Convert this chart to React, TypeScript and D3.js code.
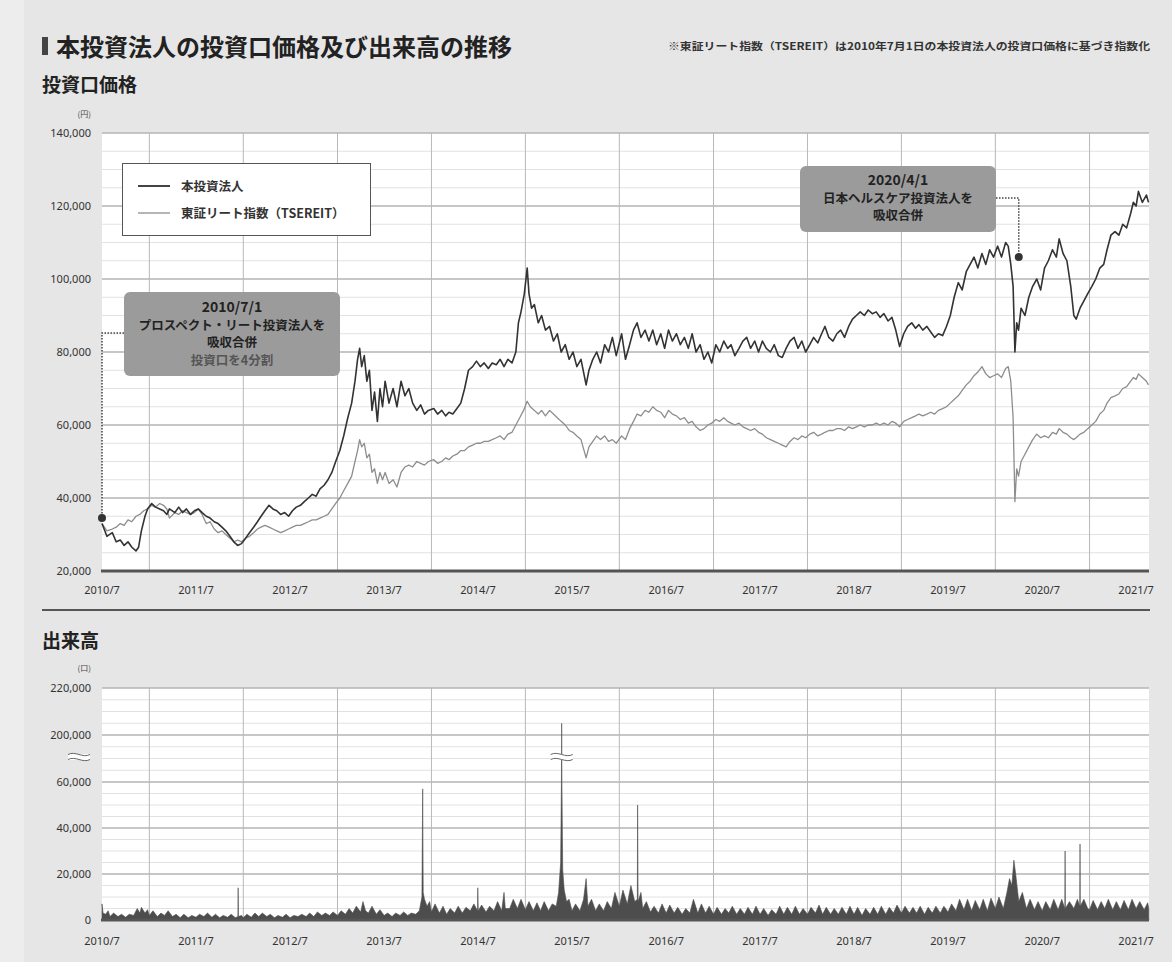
import * as d3 from "d3";

type Pt = [string, number];

// 本投資法人 投資口価格 (円)
const companyPrice: Pt[] = [
  ["2010-07-01", 33000], ["2010-07-20", 29500], ["2010-08-10", 30500], ["2010-08-25", 28000],
  ["2010-09-10", 28500], ["2010-09-25", 27000], ["2010-10-10", 28000], ["2010-10-25", 26500],
  ["2010-11-10", 25500], ["2010-11-20", 26500], ["2010-12-01", 31000], ["2010-12-15", 35000],
  ["2010-12-25", 37000], ["2011-01-10", 38500], ["2011-01-25", 37500], ["2011-02-10", 37000],
  ["2011-02-25", 36500], ["2011-03-10", 35500], ["2011-03-20", 37000], ["2011-04-10", 36000],
  ["2011-04-25", 37500], ["2011-05-10", 36000], ["2011-05-25", 37000], ["2011-06-10", 35500],
  ["2011-06-25", 36500], ["2011-07-10", 37000], ["2011-07-25", 36000], ["2011-08-10", 35000],
  ["2011-08-25", 34500], ["2011-09-10", 33500], ["2011-09-25", 33000], ["2011-10-10", 32000],
  ["2011-10-25", 31000], ["2011-11-10", 29500], ["2011-11-25", 28000], ["2011-12-10", 27000],
  ["2011-12-25", 27500], ["2012-01-10", 29000], ["2012-01-25", 30500], ["2012-02-10", 32000],
  ["2012-02-25", 33500], ["2012-03-10", 35000], ["2012-03-25", 36500], ["2012-04-10", 38000],
  ["2012-04-25", 37000], ["2012-05-10", 36500], ["2012-05-25", 35500], ["2012-06-10", 36000],
  ["2012-06-25", 35000], ["2012-07-10", 36500], ["2012-07-25", 37500], ["2012-08-10", 38000],
  ["2012-08-25", 39000], ["2012-09-10", 40000], ["2012-09-25", 41000], ["2012-10-10", 40500],
  ["2012-10-25", 42500], ["2012-11-10", 43500], ["2012-11-25", 45000], ["2012-12-10", 47000],
  ["2012-12-25", 50000], ["2013-01-10", 53000], ["2013-01-25", 57000], ["2013-02-10", 62000],
  ["2013-02-25", 66000], ["2013-03-10", 72000], ["2013-03-20", 78000], ["2013-03-28", 81000],
  ["2013-04-05", 76000], ["2013-04-15", 79000], ["2013-04-25", 72000], ["2013-05-05", 75000],
  ["2013-05-15", 64000], ["2013-05-25", 69000], ["2013-06-05", 61000], ["2013-06-15", 70000],
  ["2013-06-25", 65000], ["2013-07-05", 72000], ["2013-07-20", 66000], ["2013-08-05", 70000],
  ["2013-08-20", 65000], ["2013-09-05", 72000], ["2013-09-20", 68000], ["2013-10-05", 70000],
  ["2013-10-20", 66000], ["2013-11-05", 64000], ["2013-11-20", 65500], ["2013-12-05", 63000],
  ["2013-12-20", 64000], ["2014-01-10", 64500], ["2014-01-25", 63000], ["2014-02-10", 64000],
  ["2014-02-25", 62500], ["2014-03-10", 63500], ["2014-03-25", 63000], ["2014-04-10", 64500],
  ["2014-04-25", 66000], ["2014-05-10", 70000], ["2014-05-25", 75000], ["2014-06-10", 76000],
  ["2014-06-25", 77500], ["2014-07-10", 76000], ["2014-07-25", 77000], ["2014-08-10", 75500],
  ["2014-08-25", 77000], ["2014-09-10", 76500], ["2014-09-25", 78000], ["2014-10-10", 76000],
  ["2014-10-25", 78000], ["2014-11-10", 77000], ["2014-11-25", 80000], ["2014-12-05", 88000],
  ["2014-12-15", 91000], ["2014-12-28", 96000], ["2015-01-08", 103000], ["2015-01-15", 96000],
  ["2015-01-25", 92000], ["2015-02-05", 93000], ["2015-02-20", 88000], ["2015-03-05", 90000],
  ["2015-03-20", 86000], ["2015-04-05", 87000], ["2015-04-20", 83000], ["2015-05-05", 85000],
  ["2015-05-20", 80000], ["2015-06-05", 82000], ["2015-06-20", 78000], ["2015-07-05", 80000],
  ["2015-07-20", 76000], ["2015-08-05", 78000], ["2015-08-25", 71000], ["2015-09-05", 75000],
  ["2015-09-20", 78000], ["2015-10-05", 80000], ["2015-10-20", 77000], ["2015-11-05", 82000],
  ["2015-11-20", 80000], ["2015-12-05", 84000], ["2015-12-20", 79000], ["2016-01-10", 85000],
  ["2016-01-25", 78000], ["2016-02-10", 82000], ["2016-02-25", 86000], ["2016-03-10", 88000],
  ["2016-03-25", 84000], ["2016-04-10", 86000], ["2016-04-25", 83000], ["2016-05-10", 86000],
  ["2016-05-25", 82000], ["2016-06-10", 85000], ["2016-06-25", 81000], ["2016-07-10", 86000],
  ["2016-07-25", 83000], ["2016-08-10", 85000], ["2016-08-25", 82000], ["2016-09-10", 84000],
  ["2016-09-25", 81000], ["2016-10-10", 85000], ["2016-10-25", 80000], ["2016-11-10", 82000],
  ["2016-11-25", 78000], ["2016-12-10", 80000], ["2016-12-25", 77000], ["2017-01-10", 82000],
  ["2017-01-25", 80000], ["2017-02-10", 83000], ["2017-02-25", 81000], ["2017-03-10", 82000],
  ["2017-03-25", 79000], ["2017-04-10", 81000], ["2017-04-25", 83000], ["2017-05-10", 84000],
  ["2017-05-25", 81000], ["2017-06-10", 83000], ["2017-06-25", 80000], ["2017-07-10", 83000],
  ["2017-07-25", 81000], ["2017-08-10", 80000], ["2017-08-25", 82000], ["2017-09-10", 79000],
  ["2017-09-25", 78500], ["2017-10-10", 81000], ["2017-10-25", 83000], ["2017-11-10", 84000],
  ["2017-11-25", 81000], ["2017-12-10", 83000], ["2017-12-25", 80000], ["2018-01-10", 82000],
  ["2018-01-25", 84000], ["2018-02-10", 82500], ["2018-02-25", 85000], ["2018-03-10", 87000],
  ["2018-03-25", 84000], ["2018-04-10", 83000], ["2018-04-25", 85000], ["2018-05-10", 86000],
  ["2018-05-25", 84000], ["2018-06-10", 87000], ["2018-06-25", 89000], ["2018-07-10", 90000],
  ["2018-07-25", 91000], ["2018-08-10", 90000], ["2018-08-25", 91500], ["2018-09-10", 90500],
  ["2018-09-25", 91000], ["2018-10-10", 89500], ["2018-10-25", 90500], ["2018-11-10", 88500],
  ["2018-11-25", 89500], ["2018-12-10", 86000], ["2018-12-25", 81500], ["2019-01-10", 85000],
  ["2019-01-25", 87000], ["2019-02-10", 88000], ["2019-02-25", 86500], ["2019-03-10", 87500],
  ["2019-03-25", 86000], ["2019-04-10", 87000], ["2019-04-25", 85500], ["2019-05-10", 84000],
  ["2019-05-25", 85000], ["2019-06-10", 84500], ["2019-06-25", 87000], ["2019-07-10", 90000],
  ["2019-07-25", 95000], ["2019-08-10", 99000], ["2019-08-25", 97000], ["2019-09-10", 102000],
  ["2019-09-25", 104000], ["2019-10-10", 106000], ["2019-10-25", 103000], ["2019-11-10", 107000],
  ["2019-11-25", 104000], ["2019-12-10", 108000], ["2019-12-25", 106000], ["2020-01-10", 109000],
  ["2020-01-25", 106000], ["2020-02-10", 110000], ["2020-02-20", 109000], ["2020-03-01", 104000],
  ["2020-03-10", 98000], ["2020-03-17", 80000], ["2020-03-24", 88000], ["2020-03-31", 86000],
  ["2020-04-10", 92000], ["2020-04-25", 90000], ["2020-05-10", 95000], ["2020-05-25", 98000],
  ["2020-06-10", 100000], ["2020-06-25", 97000], ["2020-07-10", 103000], ["2020-07-25", 105000],
  ["2020-08-10", 108000], ["2020-08-25", 106000], ["2020-09-05", 111000], ["2020-09-20", 107000],
  ["2020-10-05", 105000], ["2020-10-20", 98000], ["2020-11-01", 90000], ["2020-11-10", 89000],
  ["2020-11-25", 92000], ["2020-12-10", 94000], ["2020-12-25", 96000], ["2021-01-10", 98000],
  ["2021-01-25", 100000], ["2021-02-10", 103000], ["2021-02-25", 104000], ["2021-03-10", 108000],
  ["2021-03-25", 112000], ["2021-04-10", 113000], ["2021-04-25", 112000], ["2021-05-10", 115000],
  ["2021-05-25", 114000], ["2021-06-10", 118000], ["2021-06-20", 121000], ["2021-07-01", 120000],
  ["2021-07-10", 124000], ["2021-07-25", 121000], ["2021-08-10", 123000], ["2021-08-18", 121000],
];

// 東証リート指数 (TSEREIT), 2010/7/1 の投資口価格で指数化
const reitIndex: Pt[] = [
  ["2010-07-01", 33000], ["2010-07-20", 31000], ["2010-08-10", 31500], ["2010-08-25", 32000],
  ["2010-09-10", 33000], ["2010-09-25", 32500], ["2010-10-10", 34000], ["2010-10-25", 33500],
  ["2010-11-10", 35000], ["2010-11-25", 35500], ["2010-12-10", 36500], ["2010-12-25", 37000],
  ["2011-01-10", 38000], ["2011-01-25", 37500], ["2011-02-10", 38500], ["2011-02-25", 38000],
  ["2011-03-10", 37000], ["2011-03-20", 34500], ["2011-04-10", 36000], ["2011-04-25", 35500],
  ["2011-05-10", 36500], ["2011-05-25", 36000], ["2011-06-10", 35500], ["2011-06-25", 36000],
  ["2011-07-10", 37000], ["2011-07-25", 35500], ["2011-08-10", 33000], ["2011-08-25", 33500],
  ["2011-09-10", 31500], ["2011-09-25", 30500], ["2011-10-10", 31000], ["2011-10-25", 30000],
  ["2011-11-10", 29000], ["2011-11-25", 28000], ["2011-12-10", 28500], ["2011-12-25", 28000],
  ["2012-01-10", 29000], ["2012-01-25", 29500], ["2012-02-10", 30500], ["2012-02-25", 31500],
  ["2012-03-10", 32000], ["2012-03-25", 32500], ["2012-04-10", 32000], ["2012-04-25", 31500],
  ["2012-05-10", 31000], ["2012-05-25", 30500], ["2012-06-10", 31000], ["2012-06-25", 31500],
  ["2012-07-10", 32000], ["2012-07-25", 32500], ["2012-08-10", 32500], ["2012-08-25", 33000],
  ["2012-09-10", 33500], ["2012-09-25", 34000], ["2012-10-10", 34000], ["2012-10-25", 34500],
  ["2012-11-10", 35000], ["2012-11-25", 35500], ["2012-12-10", 37000], ["2012-12-25", 38500],
  ["2013-01-10", 40000], ["2013-01-25", 42000], ["2013-02-10", 44000], ["2013-02-25", 46000],
  ["2013-03-10", 50000], ["2013-03-20", 53000], ["2013-03-28", 56000], ["2013-04-05", 54000],
  ["2013-04-15", 55000], ["2013-04-25", 51000], ["2013-05-05", 52000], ["2013-05-15", 47000],
  ["2013-05-25", 48000], ["2013-06-05", 44000], ["2013-06-15", 47000], ["2013-06-25", 45000],
  ["2013-07-05", 47000], ["2013-07-20", 44000], ["2013-08-05", 45000], ["2013-08-20", 43000],
  ["2013-09-05", 47000], ["2013-09-20", 48500], ["2013-10-05", 49000], ["2013-10-20", 48500],
  ["2013-11-05", 50000], ["2013-11-20", 49500], ["2013-12-05", 49000], ["2013-12-20", 50000],
  ["2014-01-10", 50500], ["2014-01-25", 49500], ["2014-02-10", 50000], ["2014-02-25", 51000],
  ["2014-03-10", 50500], ["2014-03-25", 51500], ["2014-04-10", 52000], ["2014-04-25", 53000],
  ["2014-05-10", 53000], ["2014-05-25", 54000], ["2014-06-10", 54500], ["2014-06-25", 55000],
  ["2014-07-10", 55000], ["2014-07-25", 55500], ["2014-08-10", 55500], ["2014-08-25", 56000],
  ["2014-09-10", 56500], ["2014-09-25", 57000], ["2014-10-10", 56000], ["2014-10-25", 57500],
  ["2014-11-10", 58000], ["2014-11-25", 60000], ["2014-12-10", 62000], ["2014-12-25", 64000],
  ["2015-01-08", 66500], ["2015-01-20", 65000], ["2015-02-05", 64000], ["2015-02-20", 63000],
  ["2015-03-05", 64000], ["2015-03-20", 62500], ["2015-04-05", 64000], ["2015-04-20", 63000],
  ["2015-05-05", 62000], ["2015-05-20", 61000], ["2015-06-05", 60000], ["2015-06-20", 58500],
  ["2015-07-05", 58000], ["2015-07-20", 57000], ["2015-08-05", 56000], ["2015-08-25", 51000],
  ["2015-09-05", 54000], ["2015-09-20", 55500], ["2015-10-05", 57000], ["2015-10-20", 56000],
  ["2015-11-05", 57000], ["2015-11-20", 55500], ["2015-12-05", 56000], ["2015-12-20", 55000],
  ["2016-01-10", 57000], ["2016-01-25", 56000], ["2016-02-10", 59000], ["2016-02-25", 61000],
  ["2016-03-10", 63000], ["2016-03-25", 62500], ["2016-04-10", 64000], ["2016-04-25", 63500],
  ["2016-05-10", 65000], ["2016-05-25", 64000], ["2016-06-10", 63500], ["2016-06-25", 62000],
  ["2016-07-10", 64000], ["2016-07-25", 63000], ["2016-08-10", 62500], ["2016-08-25", 61500],
  ["2016-09-10", 62000], ["2016-09-25", 60500], ["2016-10-10", 61000], ["2016-10-25", 59500],
  ["2016-11-10", 58500], ["2016-11-25", 59000], ["2016-12-10", 60000], ["2016-12-25", 60500],
  ["2017-01-10", 61500], ["2017-01-25", 61000], ["2017-02-10", 62000], ["2017-02-25", 61000],
  ["2017-03-10", 60500], ["2017-03-25", 60000], ["2017-04-10", 60500], ["2017-04-25", 59500],
  ["2017-05-10", 59000], ["2017-05-25", 58500], ["2017-06-10", 59000], ["2017-06-25", 58000],
  ["2017-07-10", 57500], ["2017-07-25", 56500], ["2017-08-10", 56000], ["2017-08-25", 55500],
  ["2017-09-10", 55000], ["2017-09-25", 54500], ["2017-10-10", 54000], ["2017-10-25", 55500],
  ["2017-11-10", 56500], ["2017-11-25", 56000], ["2017-12-10", 57000], ["2017-12-25", 56500],
  ["2018-01-10", 57500], ["2018-01-25", 58000], ["2018-02-10", 57000], ["2018-02-25", 57500],
  ["2018-03-10", 58000], ["2018-03-25", 58500], ["2018-04-10", 58500], ["2018-04-25", 59000],
  ["2018-05-10", 59000], ["2018-05-25", 58500], ["2018-06-10", 59500], ["2018-06-25", 59000],
  ["2018-07-10", 59500], ["2018-07-25", 60000], ["2018-08-10", 59500], ["2018-08-25", 60000],
  ["2018-09-10", 60000], ["2018-09-25", 60500], ["2018-10-10", 60000], ["2018-10-25", 60500],
  ["2018-11-10", 60000], ["2018-11-25", 61000], ["2018-12-10", 60500], ["2018-12-25", 59500],
  ["2019-01-10", 61000], ["2019-01-25", 61500], ["2019-02-10", 62000], ["2019-02-25", 62500],
  ["2019-03-10", 63000], ["2019-03-25", 62500], ["2019-04-10", 63000], ["2019-04-25", 63500],
  ["2019-05-10", 63000], ["2019-05-25", 64000], ["2019-06-10", 64500], ["2019-06-25", 65000],
  ["2019-07-10", 66000], ["2019-07-25", 67000], ["2019-08-10", 68000], ["2019-08-25", 69500],
  ["2019-09-10", 71000], ["2019-09-25", 72000], ["2019-10-10", 73500], ["2019-10-25", 74500],
  ["2019-11-10", 76000], ["2019-11-25", 74000], ["2019-12-10", 73000], ["2019-12-25", 73500],
  ["2020-01-10", 74000], ["2020-01-25", 73000], ["2020-02-10", 75500], ["2020-02-20", 76000],
  ["2020-03-01", 72000], ["2020-03-10", 62000], ["2020-03-17", 39000], ["2020-03-24", 48000],
  ["2020-03-31", 46000], ["2020-04-10", 50000], ["2020-04-25", 52000], ["2020-05-10", 54000],
  ["2020-05-25", 56000], ["2020-06-10", 57500], ["2020-06-25", 56500], ["2020-07-10", 57000],
  ["2020-07-25", 56500], ["2020-08-10", 58000], ["2020-08-25", 57500], ["2020-09-05", 59000],
  ["2020-09-20", 58000], ["2020-10-05", 57500], ["2020-10-20", 56500], ["2020-11-01", 56000],
  ["2020-11-10", 56500], ["2020-11-25", 57500], ["2020-12-10", 58000], ["2020-12-25", 59000],
  ["2021-01-10", 60000], ["2021-01-25", 61000], ["2021-02-10", 63000], ["2021-02-25", 64000],
  ["2021-03-10", 66000], ["2021-03-25", 67500], ["2021-04-10", 68000], ["2021-04-25", 68500],
  ["2021-05-10", 70000], ["2021-05-25", 70500], ["2021-06-10", 72000], ["2021-06-20", 73000],
  ["2021-07-01", 72500], ["2021-07-10", 74000], ["2021-07-25", 73000], ["2021-08-10", 72000],
  ["2021-08-18", 71000],
];

// 出来高 (口)
const volume2010: Pt[] = [
  ["2010-07-01", 7000], ["2010-07-05", 3000], ["2010-07-15", 2500], ["2010-07-25", 4000],
  ["2010-08-01", 1500], ["2010-08-15", 3000], ["2010-09-01", 1500], ["2010-09-15", 2500],
  ["2010-10-01", 1200], ["2010-10-15", 2500], ["2010-11-01", 2000], ["2010-11-15", 5000],
  ["2010-11-25", 3000], ["2010-12-01", 5500], ["2010-12-15", 3000], ["2010-12-25", 4500],
];
const volume2011: Pt[] = [
  ["2011-01-01", 2000], ["2011-01-15", 4000], ["2011-02-01", 1500], ["2011-02-15", 3000],
  ["2011-03-01", 2000], ["2011-03-15", 4000], ["2011-04-01", 1500], ["2011-04-15", 2500],
  ["2011-05-01", 1000], ["2011-05-15", 2500], ["2011-06-01", 1000], ["2011-06-15", 2000],
  ["2011-07-01", 1200], ["2011-07-15", 2500], ["2011-08-01", 1500], ["2011-08-15", 3000],
  ["2011-09-01", 1200], ["2011-09-15", 2500], ["2011-10-01", 1000], ["2011-10-15", 2000],
  ["2011-11-01", 1200], ["2011-11-15", 2500], ["2011-12-01", 1000], ["2011-12-11", 1500],
  ["2011-12-12", 14000], ["2011-12-13", 1500], ["2011-12-25", 2000],
];
const volume2012: Pt[] = [
  ["2012-01-01", 1000], ["2012-01-15", 2500], ["2012-02-01", 1200], ["2012-02-15", 3000],
  ["2012-03-01", 1500], ["2012-03-15", 3000], ["2012-04-01", 1500], ["2012-04-15", 2500],
  ["2012-05-01", 1000], ["2012-05-15", 2000], ["2012-06-01", 1200], ["2012-06-15", 2500],
  ["2012-07-01", 1000], ["2012-07-15", 2000], ["2012-08-01", 1500], ["2012-08-15", 2500],
  ["2012-09-01", 1500], ["2012-09-15", 3000], ["2012-10-01", 1500], ["2012-10-15", 3500],
  ["2012-11-01", 2000], ["2012-11-15", 3000], ["2012-12-01", 2000], ["2012-12-15", 3500],
];
const volume2013: Pt[] = [
  ["2013-01-01", 2000], ["2013-01-15", 4000], ["2013-02-01", 2500], ["2013-02-15", 5000],
  ["2013-03-01", 3000], ["2013-03-15", 6000], ["2013-04-01", 3500], ["2013-04-10", 8000],
  ["2013-04-20", 4000], ["2013-05-01", 3000], ["2013-05-15", 6000], ["2013-06-01", 2500],
  ["2013-06-15", 4500], ["2013-07-01", 2000], ["2013-07-15", 3000], ["2013-08-01", 1500],
  ["2013-08-15", 3000], ["2013-09-01", 2000], ["2013-09-15", 3500], ["2013-10-01", 2000],
  ["2013-10-15", 3000], ["2013-11-01", 2500], ["2013-11-15", 4000], ["2013-11-25", 10000],
  ["2013-11-28", 57000], ["2013-11-30", 12000], ["2013-12-05", 9000], ["2013-12-15", 6000],
  ["2013-12-25", 8000],
];
const volume2014: Pt[] = [
  ["2014-01-01", 3500], ["2014-01-15", 7000], ["2014-02-01", 3000], ["2014-02-15", 6000],
  ["2014-03-01", 2500], ["2014-03-15", 5000], ["2014-04-01", 3000], ["2014-04-15", 6000],
  ["2014-05-01", 3000], ["2014-05-15", 5500], ["2014-06-01", 4000], ["2014-06-15", 7000],
  ["2014-06-29", 4000], ["2014-06-30", 14000], ["2014-07-02", 4000], ["2014-07-15", 6500],
  ["2014-08-01", 3500], ["2014-08-15", 6000], ["2014-09-01", 4000], ["2014-09-15", 8000],
  ["2014-10-01", 4000], ["2014-10-10", 12000], ["2014-10-15", 5000], ["2014-11-01", 5000],
  ["2014-11-15", 9000], ["2014-12-01", 5000], ["2014-12-15", 9000],
];
const volume2015: Pt[] = [
  ["2015-01-01", 4500], ["2015-01-15", 8000], ["2015-02-01", 4000], ["2015-02-15", 7500],
  ["2015-03-01", 4000], ["2015-03-15", 8000], ["2015-04-01", 4000], ["2015-04-15", 7000],
  ["2015-05-01", 6000], ["2015-05-10", 12000], ["2015-05-18", 25000], ["2015-05-21", 60000],
  ["2015-05-22", 205000], ["2015-05-23", 60000], ["2015-05-26", 22000], ["2015-06-01", 13000],
  ["2015-06-10", 8000], ["2015-06-20", 9000], ["2015-07-01", 4000], ["2015-07-15", 7000],
  ["2015-08-01", 4000], ["2015-08-15", 9000], ["2015-08-25", 18000], ["2015-09-01", 6000],
  ["2015-09-15", 9000], ["2015-10-01", 4000], ["2015-10-15", 7000], ["2015-11-01", 4000],
  ["2015-11-15", 8000], ["2015-12-01", 5000], ["2015-12-15", 12000],
];
const volume2016: Pt[] = [
  ["2016-01-01", 6000], ["2016-01-15", 13000], ["2016-02-01", 7000], ["2016-02-15", 15000],
  ["2016-03-01", 8000], ["2016-03-11", 9000], ["2016-03-12", 50000], ["2016-03-14", 8000],
  ["2016-03-25", 12000], ["2016-04-01", 5000], ["2016-04-15", 8000], ["2016-05-01", 3500],
  ["2016-05-15", 6000], ["2016-06-01", 3000], ["2016-06-15", 7000], ["2016-07-01", 3000],
  ["2016-07-15", 6500], ["2016-08-01", 3000], ["2016-08-15", 5500], ["2016-09-01", 2500],
  ["2016-09-15", 5000], ["2016-10-01", 3000], ["2016-10-15", 9000], ["2016-11-01", 3000],
  ["2016-11-15", 7000], ["2016-12-01", 3000], ["2016-12-15", 6000],
];
const volume2017: Pt[] = [
  ["2017-01-01", 2500], ["2017-01-15", 5500], ["2017-02-01", 2500], ["2017-02-15", 5000],
  ["2017-03-01", 3000], ["2017-03-15", 6000], ["2017-04-01", 2500], ["2017-04-15", 5000],
  ["2017-05-01", 2500], ["2017-05-15", 5500], ["2017-06-01", 2500], ["2017-06-15", 6000],
  ["2017-07-01", 2500], ["2017-07-15", 5000], ["2017-08-01", 2000], ["2017-08-15", 4500],
  ["2017-09-01", 2500], ["2017-09-15", 6000], ["2017-10-01", 2500], ["2017-10-15", 5500],
  ["2017-11-01", 2500], ["2017-11-15", 6000], ["2017-12-01", 2500], ["2017-12-15", 5000],
];
const volume2018: Pt[] = [
  ["2018-01-01", 2500], ["2018-01-15", 5500], ["2018-02-01", 3000], ["2018-02-15", 6500],
  ["2018-03-01", 2500], ["2018-03-15", 5500], ["2018-04-01", 2500], ["2018-04-15", 5000],
  ["2018-05-01", 2500], ["2018-05-15", 5500], ["2018-06-01", 2500], ["2018-06-15", 6000],
  ["2018-07-01", 2500], ["2018-07-15", 5500], ["2018-08-01", 2000], ["2018-08-15", 5000],
  ["2018-09-01", 2500], ["2018-09-15", 5500], ["2018-10-01", 2500], ["2018-10-15", 6000],
  ["2018-11-01", 2500], ["2018-11-15", 5500], ["2018-12-01", 3000], ["2018-12-15", 6500],
];
const volume2019: Pt[] = [
  ["2019-01-01", 3000], ["2019-01-15", 6000], ["2019-02-01", 3000], ["2019-02-15", 5500],
  ["2019-03-01", 3000], ["2019-03-15", 6000], ["2019-04-01", 2500], ["2019-04-15", 5500],
  ["2019-05-01", 3000], ["2019-05-15", 6000], ["2019-06-01", 3000], ["2019-06-15", 6000],
  ["2019-07-01", 3500], ["2019-07-15", 7000], ["2019-08-01", 4000], ["2019-08-15", 9000],
  ["2019-09-01", 4500], ["2019-09-15", 9000], ["2019-10-01", 4000], ["2019-10-15", 8500],
  ["2019-11-01", 4500], ["2019-11-15", 9000], ["2019-12-01", 4000], ["2019-12-15", 9500],
];
const volume2020: Pt[] = [
  ["2020-01-01", 5000], ["2020-01-15", 10000], ["2020-02-01", 5000], ["2020-02-15", 12000],
  ["2020-02-25", 18000], ["2020-03-05", 15000], ["2020-03-13", 26000], ["2020-03-20", 20000],
  ["2020-04-01", 8000], ["2020-04-15", 12000], ["2020-05-01", 5000], ["2020-05-15", 9000],
  ["2020-06-01", 4500], ["2020-06-15", 8000], ["2020-07-01", 4000], ["2020-07-15", 8000],
  ["2020-08-01", 4500], ["2020-08-15", 9000], ["2020-09-01", 4500], ["2020-09-15", 9000],
  ["2020-09-27", 5000], ["2020-09-28", 30000], ["2020-09-29", 5000], ["2020-10-15", 8000],
  ["2020-11-01", 5000], ["2020-11-15", 9000], ["2020-11-24", 6000], ["2020-11-25", 33000],
  ["2020-11-26", 6000], ["2020-12-10", 9000], ["2020-12-25", 5000],
];
const volume2021: Pt[] = [
  ["2021-01-01", 4500], ["2021-01-15", 8500], ["2021-02-01", 4500], ["2021-02-15", 8000],
  ["2021-03-01", 5000], ["2021-03-15", 9000], ["2021-04-01", 4500], ["2021-04-15", 8000],
  ["2021-05-01", 4500], ["2021-05-15", 8500], ["2021-06-01", 4500], ["2021-06-15", 9000],
  ["2021-07-01", 5000], ["2021-07-15", 8000], ["2021-08-01", 4500], ["2021-08-15", 7500],
  ["2021-08-19", 5000],
];
const volume: Pt[] = [
  ...volume2010, ...volume2011, ...volume2012, ...volume2013, ...volume2014, ...volume2015,
  ...volume2016, ...volume2017, ...volume2018, ...volume2019, ...volume2020, ...volume2021,
];

const yearLabels = [
  "2010/7", "2011/7", "2012/7", "2013/7", "2014/7", "2015/7",
  "2016/7", "2017/7", "2018/7", "2019/7", "2020/7", "2021/7",
];
const priceTicks = [20000, 40000, 60000, 80000, 100000, 120000, 140000];
const volumeTicks = [0, 20000, 40000, 60000, 200000, 220000];

const mergers = [
  { date: "2010-07-01", value: 34500, lines: ["2010/7/1", "プロスペクト・リート投資法人を", "吸収合併", "投資口を4分割"] },
  { date: "2020-04-01", value: 106000, lines: ["2020/4/1", "日本ヘルスケア投資法人を", "吸収合併"] },
];

const JP = '"Noto Sans CJK JP", "Noto Sans", sans-serif';
const NUM = '"Noto Sans", "Open Sans", sans-serif';

const W = 1172;
const H = 962;
const L = 102;
const R = 1149;
const P_TOP = 133;
const P_BOT = 571;
const V_TOP = 688;
const V_BOT = 920;

const parse = d3.timeParse("%Y-%m-%d");

export default function App() {
  const x = d3.scaleTime()
    .domain([parse("2010-07-01")!, parse("2021-08-20")!])
    .range([L, R]);
  const yPrice = d3.scaleLinear().domain([20000, 140000]).range([P_BOT, P_TOP]);
  // broken axis: 60,000 -> 200,000 squeezed into one band
  const yVol = d3.scaleLinear()
    .domain([0, 60000, 200000, 220000])
    .range([V_BOT, 782, 735, V_TOP]);

  const line = d3.line<Pt>()
    .x(d => x(parse(d[0])!))
    .y(d => yPrice(d[1]));
  const area = d3.area<Pt>()
    .x(d => x(parse(d[0])!))
    .y0(V_BOT)
    .y1(d => yVol(d[1]));

  const jan = d3.timeYear.range(parse("2011-01-01")!, parse("2022-01-01")!);
  const julys = yearLabels.map((t, i) => ({ t, d: new Date(2010 + i, 6, 1) }));

  const priceGrid = d3.range(20000, 140001, 5000);
  const volGrid = [
    ...d3.range(0, 60001, 5000),
    95000, 130000, 165000,
    ...d3.range(200000, 220001, 5000),
  ];

  const wave = (x0: number, x1: number, y: number) => {
    const w = x1 - x0;
    return `M${x0},${y} C${x0 + w / 3},${y - 4} ${x0 + (2 * w) / 3},${y + 4} ${x1},${y}`;
  };
  const breakMark = (cx: number, cy: number, half: number) => (
    <g>
      <rect x={cx - half} y={cy - 3} width={half * 2} height={6} fill="#fff" />
      <path d={wave(cx - half, cx + half, cy - 2.5)} fill="none" stroke="#666" strokeWidth={1} />
      <path d={wave(cx - half, cx + half, cy + 2.5)} fill="none" stroke="#666" strokeWidth={1} />
    </g>
  );

  const m0 = mergers[0];
  const m1 = mergers[1];
  const d0x = x(parse(m0.date)!);
  const d0y = yPrice(m0.value);
  const d1x = x(parse(m1.date)!);
  const d1y = yPrice(m1.value);
  const spikeX = x(parse("2015-05-22")!);

  return (
    <svg width={W} height={H} style={{ position: "absolute", left: 0, top: 0 }} fontFamily={JP}>
      <rect width={W} height={H} fill="#e6e6e6" />
      <rect width={24} height={H} fill="#ededed" />

      {/* title */}
      <rect x={42} y={37} width={6} height={18} fill="#444" />
      <text x={56} y={56} fontSize={24} fontWeight={700} fill="#222">本投資法人の投資口価格及び出来高の推移</text>
      <text x={668} y={50} fontSize={10} fontWeight={700} fill="#333" textLength={482} lengthAdjust="spacingAndGlyphs">
        ※東証リート指数（TSEREIT）は2010年7月1日の本投資法人の投資口価格に基づき指数化
      </text>
      <text x={42} y={92} fontSize={19} fontWeight={700} fill="#222">投資口価格</text>

      {/* price panel */}
      <rect x={L} y={P_TOP} width={R - L} height={P_BOT - P_TOP} fill="#fff" />
      {priceGrid.map(v => (
        <line key={v} x1={L} x2={R} y1={yPrice(v)} y2={yPrice(v)}
          stroke={v % 20000 === 0 ? "#b4b4b4" : "#e2e2e2"} strokeWidth={v % 20000 === 0 ? 1.3 : 1} />
      ))}
      {jan.map(d => (
        <line key={+d} x1={x(d)} x2={x(d)} y1={P_TOP} y2={P_BOT} stroke="#b8b8b8" strokeWidth={1} />
      ))}
      <path d={line(reitIndex)!} fill="none" stroke="#8d8d8d" strokeWidth={1.3} strokeLinejoin="round" />
      <path d={line(companyPrice)!} fill="none" stroke="#333" strokeWidth={1.6} strokeLinejoin="round" />
      <line x1={L - 1} x2={R} y1={P_BOT} y2={P_BOT} stroke="#555" strokeWidth={3} />

      {priceTicks.map(v => (
        <text key={v} x={91} y={yPrice(v) + 4} textAnchor="end" fontSize={11} fontFamily={NUM} fill="#333">
          {d3.format(",")(v)}
        </text>
      ))}
      <text x={91} y={117} textAnchor="end" fontSize={8} fill="#444">(円)</text>
      {julys.map(({ t, d }) => (
        <text key={t} x={x(d)} y={594} textAnchor="middle" fontSize={11} fontFamily={NUM} fill="#333">{t}</text>
      ))}

      {/* legend */}
      <rect x={122.5} y={163.5} width={248} height={72} fill="#fff" stroke="#555" strokeWidth={1} />
      <line x1={138} x2={170} y1={186} y2={186} stroke="#444" strokeWidth={2} />
      <text x={181} y={190.5} fontSize={12.5} fontWeight={700} fill="#333">本投資法人</text>
      <line x1={138} x2={170} y1={213} y2={213} stroke="#8d8d8d" strokeWidth={1.3} />
      <text x={181} y={217.5} fontSize={12.5} fontWeight={700} fill="#333">東証リート指数（TSEREIT）</text>

      {/* merger 2010/7/1 */}
      <polyline points={`124,333 ${d0x},333 ${d0x},${d0y}`} fill="none" stroke="#444" strokeWidth={1.5} strokeDasharray="1.5,1.5" />
      <circle cx={d0x} cy={d0y} r={4} fill="#333" />
      <rect x={124} y={292} width={216} height={84} rx={6} fill="#9b9b9b" />
      {m0.lines.map((s, i) => (
        <text key={s} x={232} y={312 + i * 17.5} textAnchor="middle" fontSize={i === 0 ? 14 : 12.5}
          fontWeight={700} fill={i === 3 ? "#555" : "#222"}>{s}</text>
      ))}

      {/* merger 2020/4/1 */}
      <polyline points={`996,198 ${d1x},198 ${d1x},${d1y}`} fill="none" stroke="#444" strokeWidth={1.5} strokeDasharray="1.5,1.5" />
      <circle cx={d1x} cy={d1y} r={4} fill="#333" />
      <rect x={800} y={166} width={196} height={66} rx={6} fill="#9b9b9b" />
      {m1.lines.map((s, i) => (
        <text key={s} x={898} y={185 + i * 17.5} textAnchor="middle" fontSize={i === 0 ? 14 : 12.5}
          fontWeight={700} fill="#222">{s}</text>
      ))}

      {/* separator */}
      <line x1={42} x2={1150} y1={610} y2={610} stroke="#555" strokeWidth={2} />

      {/* volume panel */}
      <text x={42} y={648} fontSize={19} fontWeight={700} fill="#222">出来高</text>
      <rect x={L} y={V_TOP} width={R - L} height={V_BOT - V_TOP} fill="#fff" />
      {volGrid.map(v => (
        <line key={v} x1={L} x2={R} y1={yVol(v)} y2={yVol(v)}
          stroke={volumeTicks.includes(v) ? "#b4b4b4" : "#e2e2e2"} strokeWidth={volumeTicks.includes(v) ? 1.3 : 1} />
      ))}
      {jan.map(d => (
        <line key={+d} x1={x(d)} x2={x(d)} y1={V_TOP} y2={V_BOT} stroke="#b8b8b8" strokeWidth={1} />
      ))}
      <path d={area(volume)!} fill="#4d4d4d" stroke="#4d4d4d" strokeWidth={0.6} />
      <line x1={L - 1} x2={R} y1={V_BOT} y2={V_BOT} stroke="#555" strokeWidth={3} />
      {breakMark(spikeX, 757, 11)}

      {volumeTicks.map(v => (
        <text key={v} x={91} y={yVol(v) + 4} textAnchor="end" fontSize={11} fontFamily={NUM} fill="#333">
          {d3.format(",")(v)}
        </text>
      ))}
      {breakMark(79, 757, 11)}
      <text x={91} y={671} textAnchor="end" fontSize={8} fill="#444">(口)</text>
      {julys.map(({ t, d }) => (
        <text key={t} x={x(d)} y={945} textAnchor="middle" fontSize={11} fontFamily={NUM} fill="#333">{t}</text>
      ))}
    </svg>
  );
}
